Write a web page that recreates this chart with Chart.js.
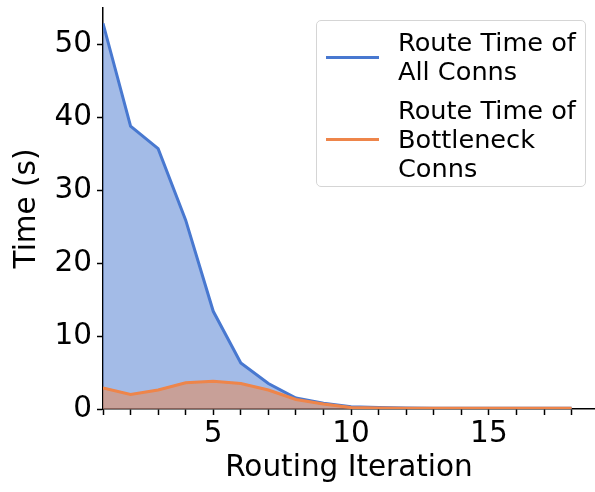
<!DOCTYPE html>
<html>
<head>
<meta charset="utf-8">
<script src="https://cdn.jsdelivr.net/npm/chart.js@4.4.1/dist/chart.umd.min.js"></script>
<style>
  html, body { margin: 0; padding: 0; background: #fff; }
  #wrap { position: relative; width: 595px; height: 492px; font-family: "DejaVu Sans", sans-serif; }
  #legend { position: absolute; left: 316px; top: 20px; width: 268px; height: 165px;
            border: 1.5px solid #d5d5d5; border-radius: 5px; background: rgba(255,255,255,0.8); }
  .swatch { position: absolute; left: 9px; width: 53px; height: 3px; }
  .txt { position: absolute; left: 81px; font-size: 25.6px; line-height: 29px; color: #000; white-space: nowrap; }
</style>
</head>
<body>
<div id="wrap">
  <canvas id="c" width="595" height="492"></canvas>
  <div id="legend"></div>
</div>
<script>
const iterations = [1,2,3,4,5,6,7,8,9,10,11,12,13,14,15,16,17,18];
const allConns = [52.9, 38.8, 35.7, 25.9, 13.4, 6.3, 3.5, 1.5, 0.8, 0.3, 0.2, 0.15, 0.1, 0.1, 0.1, 0.1, 0.1, 0.1];
const bottleneckConns = [2.9, 2.0, 2.6, 3.6, 3.8, 3.5, 2.6, 1.3, 0.7, 0.2, 0.15, 0.1, 0.1, 0.1, 0.1, 0.1, 0.1, 0.1];
const seriesNames = [["Route Time of", "All Conns"], ["Route Time of", "Bottleneck", "Conns"]];
const xTicks = [1,2,3,4,5,6,7,8,9,10,11,12,13,14,15,16,17,18];
const yTicks = [0,10,20,30,40,50];
const xLabeled = [5,10,15];

const lineColors = ["#4878d0", "#ee854a"];
const fillColors = ["rgba(72,120,208,0.5)", "rgba(238,133,74,0.5)"];

const FONT = "DejaVu Sans";
const FS = 29.5;
const ctx = document.getElementById('c').getContext('2d');
new Chart(ctx, {
  type: 'line',
  data: {
    datasets: [
      { label: seriesNames[0].join(' '), data: iterations.map((x,i)=>({x, y: allConns[i]})),
        borderColor: lineColors[0], backgroundColor: fillColors[0], fill: 'origin',
        borderWidth: 3, pointRadius: 0, tension: 0, order: 2 },
      { label: seriesNames[1].join(' '), data: iterations.map((x,i)=>({x, y: bottleneckConns[i]})),
        borderColor: lineColors[1], backgroundColor: fillColors[1], fill: 'origin',
        borderWidth: 3, pointRadius: 0, tension: 0, order: 1 }
    ]
  },
  options: {
    responsive: false,
    animation: false,
    layout: { padding: { top: 8, right: 0, left: 0, bottom: 0 } },
    plugins: { legend: { display: false }, tooltip: { enabled: false } },
    scales: {
      x: {
        type: 'linear', min: 1, max: 18.85,
        afterBuildTicks: s => { s.ticks = xTicks.map(v => ({ value: v })); },
        afterFit: s => { s.height = 83; s.paddingLeft = 0; s.paddingRight = 0; },
        grid: { drawOnChartArea: false, drawTicks: true, tickLength: 6, tickWidth: 1.5, color: '#000' },
        border: { display: true, color: '#000', width: 1.5 },
        ticks: { autoSkip: false, maxRotation: 0, padding: 2, color: '#000',
                 font: { family: FONT, size: FS },
                 callback: v => xLabeled.includes(v) ? String(v) : '' },
        title: { display: true, text: 'Routing Iteration', color: '#000',
                 font: { family: FONT, size: FS }, padding: { top: 0, bottom: 6 } }
      },
      y: {
        type: 'linear', min: 0, max: 55,
        afterBuildTicks: s => { s.ticks = yTicks.map(v => ({ value: v })); },
        afterFit: s => { s.width = 103; s.paddingTop = 0; s.paddingBottom = 0; },
        grid: { drawOnChartArea: false, drawTicks: true, tickLength: 6, tickWidth: 1.5, color: '#000' },
        border: { display: true, color: '#000', width: 1.5 },
        ticks: { padding: 5, color: '#000', font: { family: FONT, size: FS } },
        title: { display: true, text: 'Time (s)', color: '#000',
                 font: { family: FONT, size: FS }, padding: { top: 10, bottom: 0 } }
      }
    }
  }
});

// legend
const legend = document.getElementById('legend');
const tops = [7, 75];
seriesNames.forEach((lines, i) => {
  const h = lines.length * 29;
  const sw = document.createElement('div');
  sw.className = 'swatch';
  sw.style.background = lineColors[i];
  sw.style.top = (tops[i] + h/2 - 1.5) + 'px';
  legend.appendChild(sw);
  const t = document.createElement('div');
  t.className = 'txt';
  t.style.top = tops[i] + 'px';
  t.innerHTML = lines.join('<br>');
  legend.appendChild(t);
});
</script>
</body>
</html>
